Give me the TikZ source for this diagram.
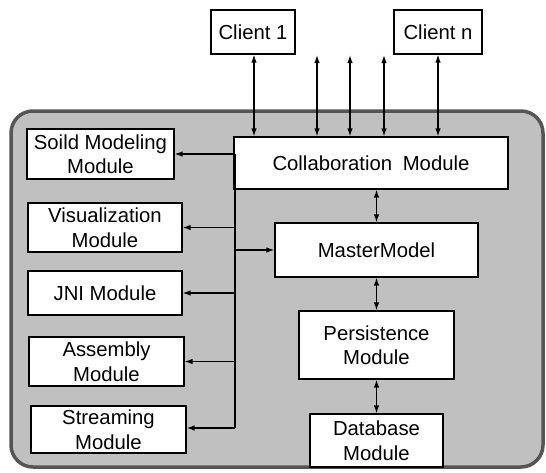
\documentclass[tikz,border=0pt]{standalone}
\usepackage{fontspec}
\setmainfont{Liberation Sans}
\usetikzlibrary{arrows.meta}
\definecolor{panelfill}{HTML}{C0C0C0}
\definecolor{panelline}{HTML}{555555}
\begin{document}
\begin{tikzpicture}[x=1pt,y=-1pt,
  box/.style={draw=black,line width=1.2pt,fill=white,inner sep=0pt,align=center,
    font=\fontsize{20.3}{24.5}\selectfont},
  link/.style={line width=1.3pt,{Latex[length=8pt,width=5.5pt]}-{Latex[length=8pt,width=5.5pt]}},
  oneway/.style={line width=1.3pt,-{Latex[length=8pt,width=5.5pt]}},
  busline/.style={line width=1.3pt}]
\useasboundingbox (0,0) rectangle (546,472);
\draw[fill=panelfill,draw=panelline,line width=3.5pt,rounded corners=22pt] (11,111) rectangle (543,467);
% clients
\node[box,minimum width=84pt,minimum height=44pt] (c1) at (253,32) {Client 1};
\node[box,minimum width=88pt,minimum height=44pt] (cn) at (438,32) {Client n};
% central column
\node[box,minimum width=274pt,minimum height=52pt] (collab) at (371,163) {Collaboration\hspace{0.25em} Module};
\node[box,minimum width=203pt,minimum height=54pt] (mm) at (376.5,250) {MasterModel};
\node[box,minimum width=155pt,minimum height=68pt] (pers) at (376.5,345) {Persistence\\Module};
\node[box,minimum width=133pt,minimum height=53pt] (db) at (376.5,440.5) {Database\\Module};
% left column
\node[box,minimum width=147pt,minimum height=50pt] (soild) at (100.5,154) {Soild Modeling\\Module};
\node[box,minimum width=154pt,minimum height=49pt] (vis) at (105,227.5) {Visualization\\Module};
\node[box,minimum width=154pt,minimum height=44pt] (jni) at (105,293) {JNI Module};
\node[box,minimum width=155pt,minimum height=49pt] (asm) at (106.5,361.5) {Assembly\\Module};
\node[box,minimum width=155pt,minimum height=47pt] (str) at (108.5,429.5) {Streaming\\Module};
% client links
\coordinate (t1) at (317,55);
\coordinate (t2) at (350,55);
\coordinate (t3) at (384,55);
\draw[link] ([xshift=1pt]c1.south) -- ([xshift=1pt]c1.south |- collab.north);
\draw[link] (t1) -- (t1 |- collab.north);
\draw[link] (t2) -- (t2 |- collab.north);
\draw[link] (t3) -- (t3 |- collab.north);
\draw[link] (cn.south) -- (cn.south |- collab.north);
% central links
\draw[link] (mm.north |- collab.south) -- (mm.north);
\draw[link] (mm.south) -- (pers.north);
\draw[link] (pers.south) -- (db.north);
% bus
\coordinate (bt) at (235,154);
\coordinate (bb) at (235,428);
\draw[busline] (bt) -- (bb);
\draw[oneway] (bt) -- (soild.east);
\draw[oneway] (vis.east -| bt) -- (vis.east);
\draw[oneway] (jni.east -| bt) -- (jni.east);
\draw[oneway] (asm.east -| bt) -- (asm.east);
\draw[oneway] (bb) -- (bb -| str.east);
\draw[oneway] (mm.west -| bt) -- (mm.west);
\end{tikzpicture}
\end{document}
